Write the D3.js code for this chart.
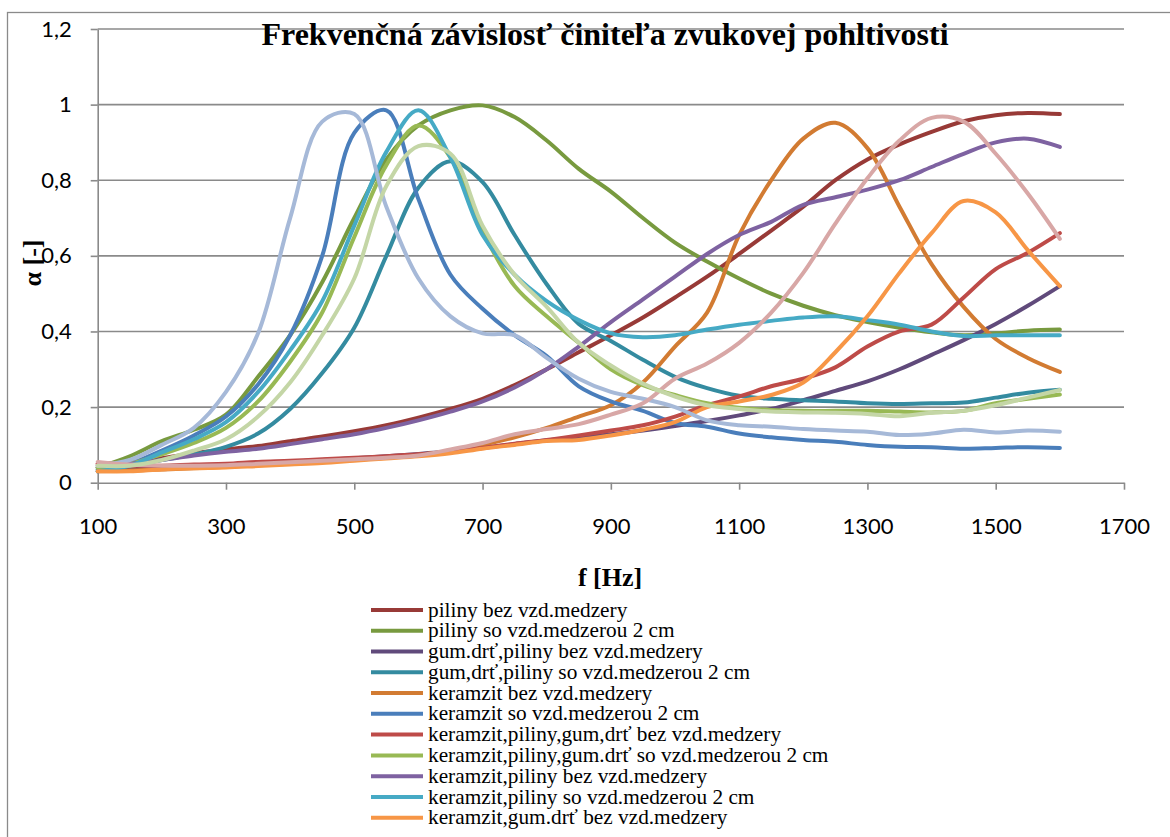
<!DOCTYPE html>
<html>
<head>
<meta charset="utf-8">
<script src="https://cdn.jsdelivr.net/npm/d3@7"></script>
<style>
	body { margin: 0; background: #fff; }
	svg { display: block; }
</style>
</head>
<body>
<svg id="chart" width="1170" height="837"></svg>
<script>
// frequency grid (Hz), read every 50 Hz off the reference
const freq = [100, 150, 200, 250, 300, 350, 400, 450, 500, 550, 600, 650, 700, 750, 800, 850,
	900, 950, 1000, 1050, 1100, 1150, 1200, 1250, 1300, 1350, 1400, 1450, 1500, 1550, 1600];

const pilinyBez = [0.05, 0.055, 0.065, 0.078, 0.088, 0.097, 0.11, 0.122, 0.136, 0.152, 0.172, 0.195, 0.222, 0.258, 0.3, 0.345,
	0.39, 0.437, 0.49, 0.545, 0.605, 0.667, 0.73, 0.8, 0.855, 0.895, 0.928, 0.956, 0.972, 0.978, 0.975];
const pilinySo = [0.04, 0.07, 0.11, 0.14, 0.18, 0.28, 0.39, 0.53, 0.7, 0.855, 0.945, 0.985, 0.998, 0.967, 0.905, 0.83,
	0.77, 0.7, 0.635, 0.585, 0.54, 0.5, 0.468, 0.443, 0.425, 0.41, 0.398, 0.39, 0.395, 0.402, 0.405];
const gumPilinyBez = [0.04, 0.04, 0.042, 0.045, 0.048, 0.052, 0.056, 0.06, 0.065, 0.07, 0.076, 0.083, 0.092, 0.102, 0.112, 0.12,
	0.128, 0.138, 0.15, 0.163, 0.178, 0.195, 0.218, 0.243, 0.268, 0.3, 0.338, 0.377, 0.42, 0.468, 0.52];
const gumPilinySo = [0.035, 0.045, 0.06, 0.075, 0.095, 0.13, 0.195, 0.29, 0.41, 0.6, 0.78, 0.85, 0.795, 0.655, 0.525, 0.42,
	0.375, 0.325, 0.28, 0.25, 0.23, 0.222, 0.218, 0.215, 0.21, 0.208, 0.21, 0.212, 0.225, 0.238, 0.246];
const keramzitBez = [0.03, 0.032, 0.035, 0.038, 0.042, 0.046, 0.05, 0.055, 0.06, 0.066, 0.074, 0.084, 0.1, 0.12, 0.145, 0.175,
	0.205, 0.265, 0.36, 0.45, 0.655, 0.8, 0.91, 0.952, 0.885, 0.73, 0.578, 0.465, 0.38, 0.33, 0.293];
const keramzitSo = [0.03, 0.05, 0.085, 0.125, 0.175, 0.26, 0.39, 0.6, 0.925, 0.985, 0.75, 0.55, 0.46, 0.39, 0.335, 0.255,
	0.215, 0.19, 0.158, 0.148, 0.13, 0.12, 0.113, 0.108, 0.1, 0.095, 0.094, 0.09, 0.092, 0.094, 0.092];
const kerPilGumBez = [0.05, 0.045, 0.045, 0.048, 0.05, 0.055, 0.058, 0.062, 0.066, 0.07, 0.075, 0.082, 0.092, 0.103, 0.113, 0.125,
	0.138, 0.152, 0.175, 0.205, 0.228, 0.255, 0.275, 0.305, 0.36, 0.4, 0.418, 0.49, 0.565, 0.608, 0.66];
const kerPilGumSo = [0.04, 0.05, 0.075, 0.105, 0.145, 0.215, 0.32, 0.45, 0.65, 0.84, 0.945, 0.86, 0.665, 0.52, 0.44, 0.37,
	0.3, 0.258, 0.232, 0.21, 0.198, 0.192, 0.19, 0.19, 0.19, 0.188, 0.186, 0.19, 0.21, 0.222, 0.233];
const kerPilBez = [0.045, 0.05, 0.06, 0.072, 0.082, 0.09, 0.102, 0.115, 0.128, 0.145, 0.165, 0.188, 0.215, 0.252, 0.3, 0.36,
	0.425, 0.485, 0.545, 0.605, 0.655, 0.69, 0.735, 0.755, 0.775, 0.8, 0.835, 0.87, 0.9, 0.91, 0.888];
const kerPilSo = [0.03, 0.045, 0.08, 0.115, 0.16, 0.24, 0.35, 0.48, 0.68, 0.875, 0.985, 0.86, 0.655, 0.55, 0.48, 0.43,
	0.395, 0.385, 0.39, 0.405, 0.418, 0.428, 0.437, 0.44, 0.43, 0.418, 0.4, 0.388, 0.39, 0.39, 0.39];
const kerGumBez = [0.03, 0.03, 0.035, 0.038, 0.04, 0.044, 0.048, 0.052, 0.058, 0.064, 0.07, 0.078, 0.09, 0.1, 0.11, 0.113,
	0.125, 0.14, 0.16, 0.2, 0.215, 0.232, 0.265, 0.345, 0.44, 0.555, 0.66, 0.745, 0.715, 0.615, 0.52];
// three more series whose legend entries are cut off in the reference
const extraBlue = [0.045, 0.06, 0.1, 0.145, 0.24, 0.395, 0.7, 0.955, 0.975, 0.73, 0.54, 0.44, 0.395, 0.39, 0.33, 0.275,
	0.24, 0.222, 0.2, 0.165, 0.152, 0.148, 0.142, 0.138, 0.135, 0.126, 0.13, 0.14, 0.133, 0.138, 0.135];
const extraPink = [0.055, 0.048, 0.045, 0.045, 0.046, 0.05, 0.054, 0.058, 0.062, 0.066, 0.072, 0.088, 0.105, 0.128, 0.142, 0.155,
	0.18, 0.21, 0.275, 0.315, 0.37, 0.45, 0.555, 0.685, 0.805, 0.905, 0.965, 0.955, 0.87, 0.765, 0.645];
const extraGreen = [0.045, 0.045, 0.06, 0.085, 0.115, 0.175, 0.265, 0.39, 0.54, 0.785, 0.89, 0.87, 0.68, 0.55, 0.465, 0.37,
	0.31, 0.262, 0.228, 0.205, 0.195, 0.188, 0.186, 0.185, 0.182, 0.176, 0.185, 0.19, 0.205, 0.225, 0.245];

const xTicks = [100, 300, 500, 700, 900, 1100, 1300, 1500, 1700];
const yTicks = [0, 0.2, 0.4, 0.6, 0.8, 1, 1.2];
const yTickLabels = ["0", "0,2", "0,4", "0,6", "0,8", "1", "1,2"];

const series = [
	{ name: "piliny bez vzd.medzery", color: "#983a37", values: pilinyBez },
	{ name: "piliny so vzd.medzerou 2 cm", color: "#789a3f", values: pilinySo },
	{ name: "gum.drť,piliny bez vzd.medzery", color: "#604a7b", values: gumPilinyBez },
	{ name: "gum,drť,piliny so vzd.medzerou 2 cm", color: "#348ba0", values: gumPilinySo },
	{ name: "keramzit bez vzd.medzery", color: "#d27b32", values: keramzitBez },
	{ name: "keramzit so vzd.medzerou 2 cm", color: "#4a7ebb", values: keramzitSo },
	{ name: "keramzit,piliny,gum,drť bez vzd.medzery", color: "#be4b48", values: kerPilGumBez },
	{ name: "keramzit,piliny,gum.drť so vzd.medzerou 2 cm", color: "#98b954", values: kerPilGumSo },
	{ name: "keramzit,piliny bez vzd.medzery", color: "#7e62a1", values: kerPilBez },
	{ name: "keramzit,piliny so vzd.medzerou 2 cm", color: "#46aac5", values: kerPilSo },
	{ name: "keramzit,gum.drť bez vzd.medzery", color: "#f79646", values: kerGumBez },
	{ name: null, color: "#a6b9d8", values: extraBlue },
	{ name: null, color: "#d8a7a6", values: extraPink },
	{ name: null, color: "#c4d6a6", values: extraGreen },
];

const gridColor = "#8a8a8a";
const serif = "'Liberation Serif', 'Times New Roman', serif";
const svg = d3.select("#chart");

// outer chart frame (runs off the right and bottom edge)
svg.append("rect")
	.attr("x", 7.5)
	.attr("y", 12.5)
	.attr("width", 1200)
	.attr("height", 900)
	.attr("fill", "#fff")
	.attr("stroke", gridColor)
	.attr("stroke-width", 1.3);

const x = d3.scaleLinear().domain([100, 1700]).range([97.7, 1124]);
const y = d3.scaleLinear().domain([0, 1.2]).range([482.7, 29]);

// horizontal gridlines
svg.append("g")
	.selectAll("line")
	.data(yTicks.slice(1))
	.join("line")
	.attr("x1", x(100))
	.attr("x2", x(1700))
	.attr("y1", (d) => y(d))
	.attr("y2", (d) => y(d))
	.attr("stroke", gridColor)
	.attr("stroke-width", 1.6);

const xAxis = svg.append("g")
	.attr("transform", `translate(0,${y(0)})`)
	.call(d3.axisBottom(x).tickValues(xTicks).tickSize(7).tickSizeOuter(0).tickPadding(29).tickFormat((d) => d));

const yAxis = svg.append("g")
	.attr("transform", `translate(${x(100)},0)`)
	.call(d3.axisLeft(y).tickValues(yTicks).tickSize(7).tickSizeOuter(0).tickPadding(19)
		.tickFormat((d, i) => yTickLabels[i]));

[xAxis, yAxis].forEach((g) => {
	g.select(".domain").attr("stroke", gridColor).attr("stroke-width", 1.6);
	g.selectAll(".tick line").attr("stroke", gridColor).attr("stroke-width", 1.6);
	g.selectAll(".tick text")
		.attr("fill", "#000")
		.attr("font-family", "Lato, 'Open Sans', sans-serif")
		.attr("font-size", "22px");
});

// the measured curves
const line = d3.line()
	.x((d, i) => x(freq[i]))
	.y((d) => y(d))
	.curve(d3.curveCatmullRom.alpha(0.5));

svg.append("g")
	.selectAll("path")
	.data(series)
	.join("path")
	.attr("d", (s) => line(s.values))
	.attr("fill", "none")
	.attr("stroke", (s) => s.color)
	.attr("stroke-width", 4)
	.attr("stroke-linejoin", "round")
	.attr("stroke-linecap", "round");

// title and axis titles
svg.append("text")
	.attr("x", 605)
	.attr("y", 45)
	.attr("text-anchor", "middle")
	.attr("font-family", serif)
	.attr("font-weight", "bold")
	.attr("font-size", "32px")
	.text("Frekvenčná závislosť činiteľa zvukovej pohltivosti");

svg.append("text")
	.attr("x", 610)
	.attr("y", 586)
	.attr("text-anchor", "middle")
	.attr("font-family", serif)
	.attr("font-weight", "bold")
	.attr("font-size", "26px")
	.text("f [Hz]");

svg.append("text")
	.attr("transform", "translate(41,263) rotate(-90)")
	.attr("text-anchor", "middle")
	.attr("font-family", serif)
	.attr("font-weight", "bold")
	.attr("font-size", "26px")
	.text("α [-]");

// legend (only the entries that fit in the frame)
const legendItems = series.filter((s) => s.name !== null);
const legend = svg.append("g")
	.selectAll("g")
	.data(legendItems)
	.join("g")
	.attr("transform", (d, i) => `translate(0,${610 + i * 20.77})`);

legend.append("line")
	.attr("x1", 371)
	.attr("x2", 423)
	.attr("stroke", (d) => d.color)
	.attr("stroke-width", 4);

// rows are tight, so the text is widened a little instead of made taller
legend.append("text")
	.attr("transform", "translate(428,0) scale(1.065,1)")
	.attr("dy", "0.33em")
	.attr("font-family", serif)
	.attr("font-size", "20px")
	.attr("fill", "#000")
	.text((d) => d.name);
</script>
</body>
</html>
